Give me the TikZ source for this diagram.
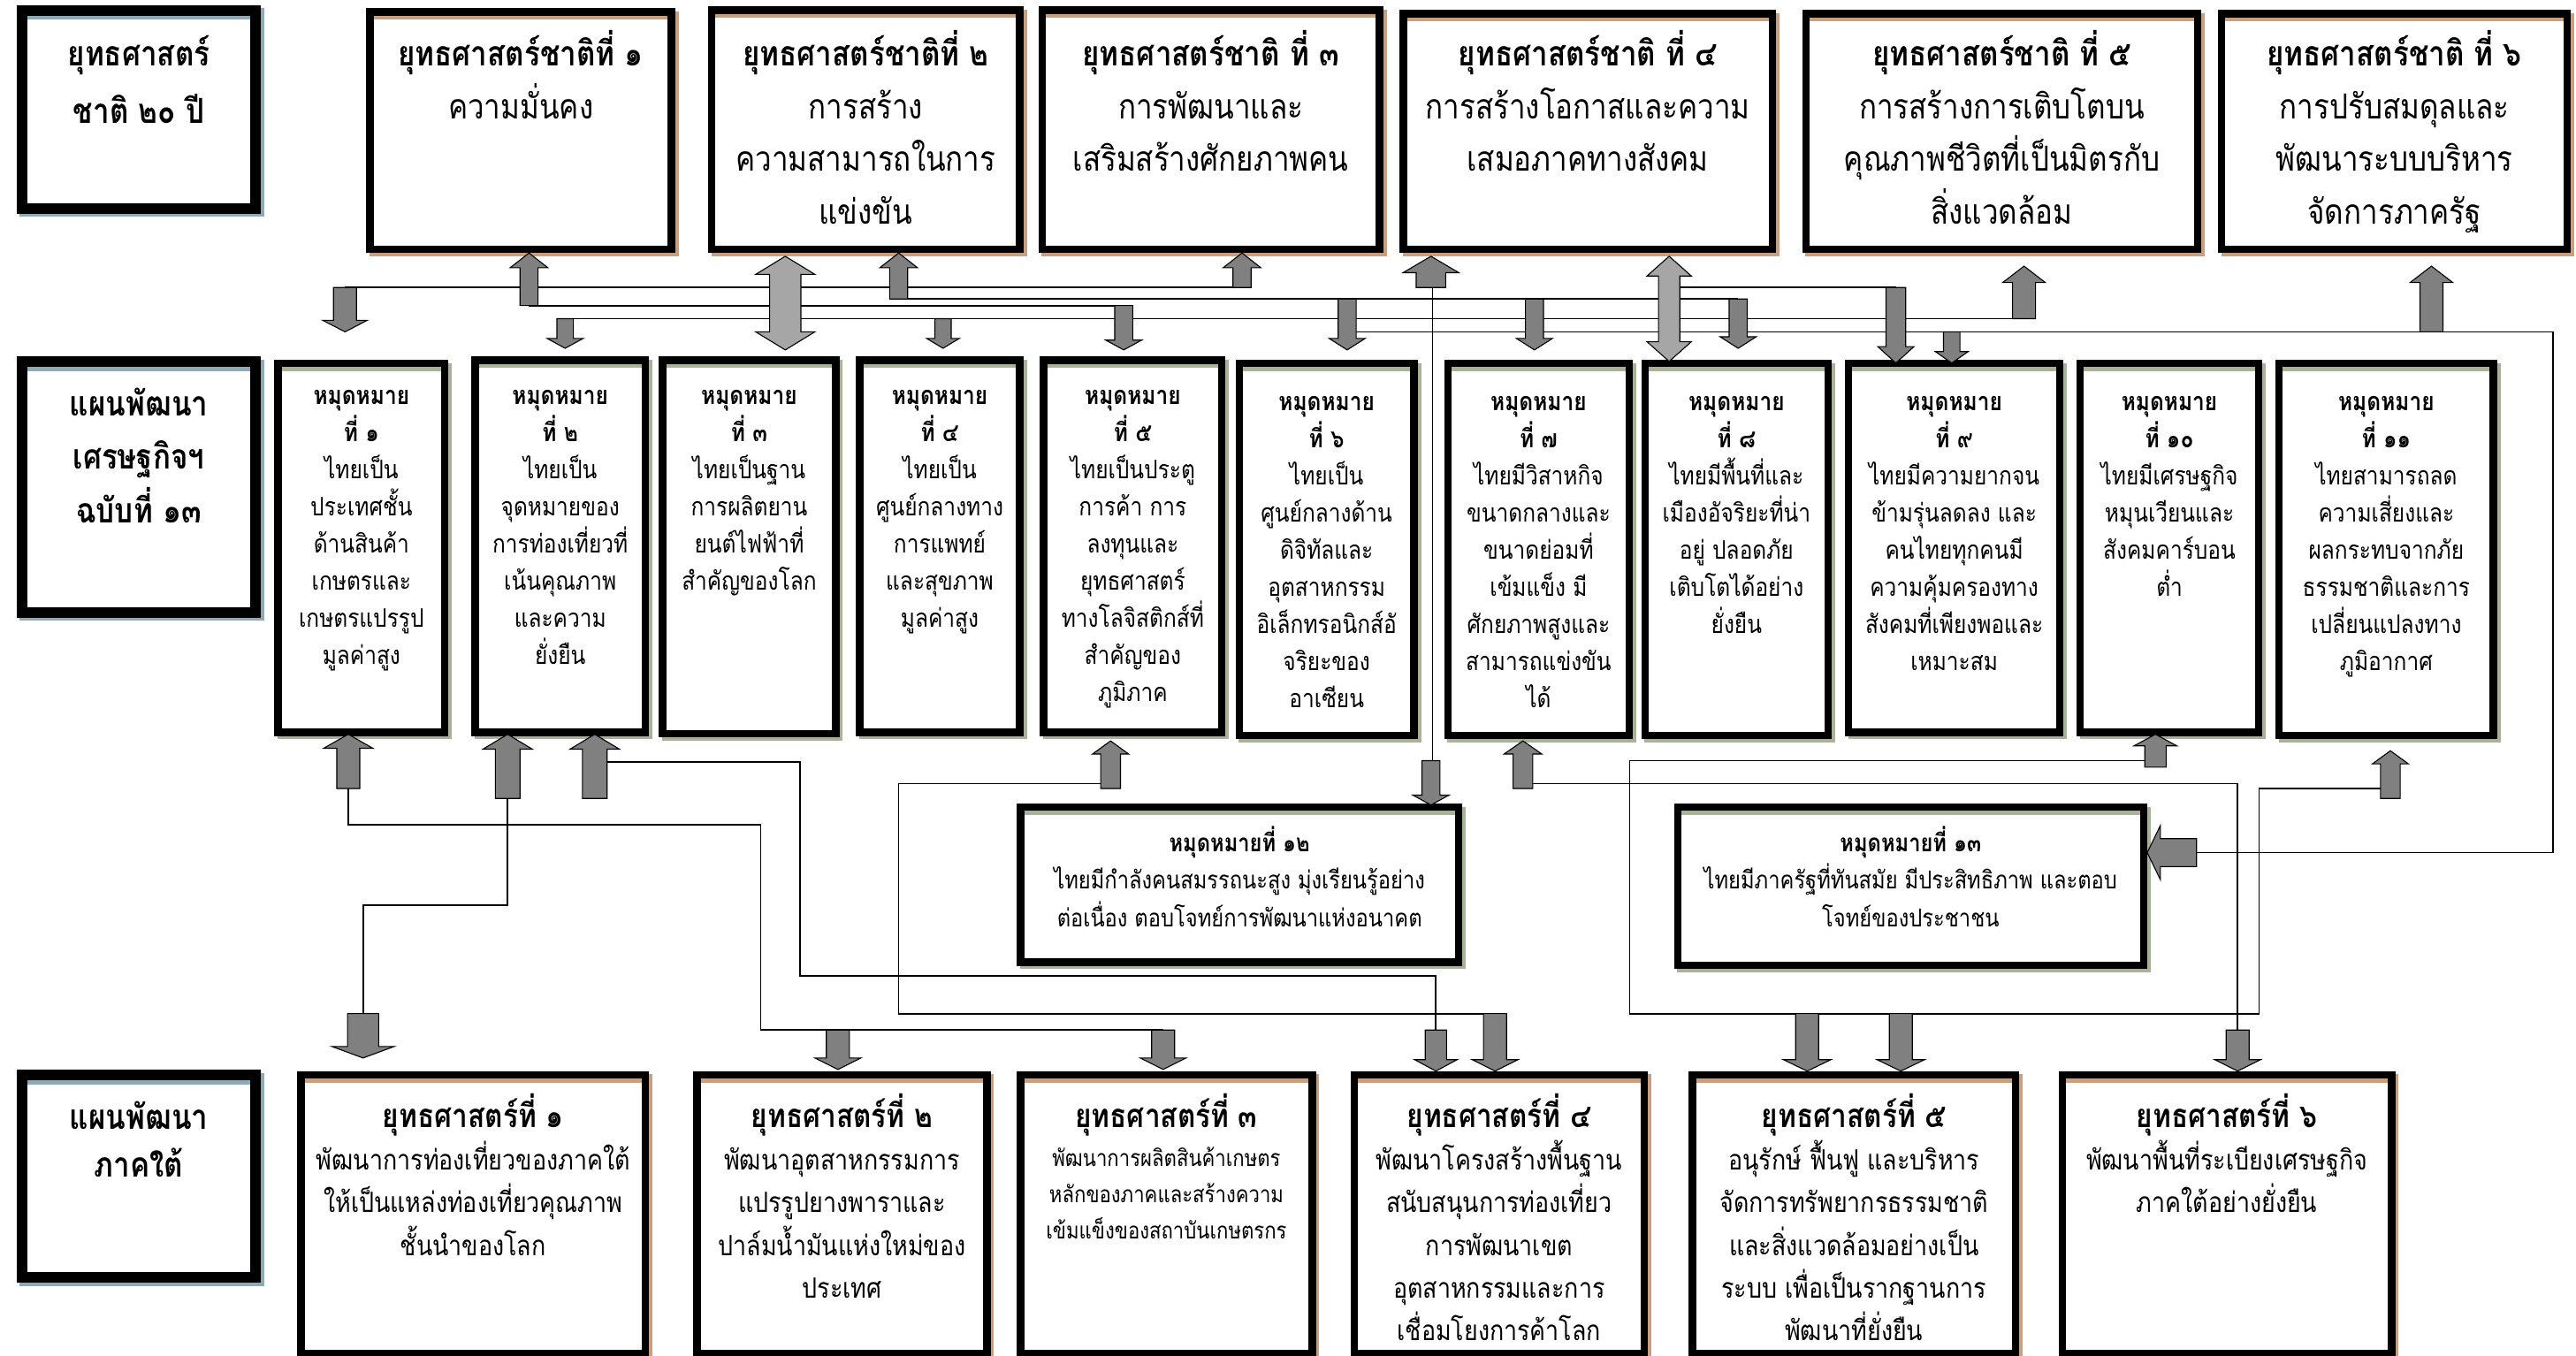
\documentclass[tikz,border=0pt]{standalone}
\usepackage{fontspec}
\setmainfont[Script=Thai,FakeStretch=0.85]{Loma}
\usetikzlibrary{calc}
\definecolor{tanS}{RGB}{201,160,127}
\definecolor{blueS}{RGB}{143,170,181}
\definecolor{oliveS}{RGB}{167,178,151}
\definecolor{arrG}{RGB}{128,128,128}
\definecolor{arrL}{RGB}{166,166,166}

\newcommand\fTop{\fontsize{21}{32}\selectfont}
\newcommand\fLabA{\fontsize{21}{35}\selectfont\bfseries}
\newcommand\fLab{\fontsize{21}{32.5}\selectfont\bfseries}
\newcommand\fLabL{\fontsize{21}{29}\selectfont\bfseries}
\newcommand\fMid{\fontsize{15.5}{22.6}\selectfont}
\newcommand\fTwl{\fontsize{15}{23}\selectfont}
\newcommand\fBot{\fontsize{17}{26}\selectfont}
\newcommand\fBotS{\fontsize{14}{22}\selectfont}
\newcommand\fBotT{\fontsize{20}{26}\selectfont\bfseries}

\tikzset{conn/.style={draw=black,line width=0.9pt}}

% box: name, x1, y1, x2, y2 (outer black extents), border width, shadow colour
\newcommand\mkbox[7]{%
  \fill[#7] ({#2+2},{#3+2}) rectangle ({#4+2},{#5+2});
  \node[draw=black, fill=white, line width=#6pt, inner sep=0pt, outer sep=0pt,
    anchor=north west, minimum width={#4-#2-#6}, minimum height={#5-#3-#6},
    path picture={\fill[#7] (path picture bounding box.north west) rectangle
      ([yshift={-(#6/2+2.5)*1pt}]path picture bounding box.north east);}]
    (#1) at ({#2+#6/2},{#3+#6/2}) {};}

% text: name, box, first baseline y, font, text, strut height
\newcommand\tnode[6]{%
  \node[anchor=north, align=center, inner sep=0pt, font=#4] (#1)
    at (#2.north |- 0,{#3-#6}) {\rule{0pt}{#6pt}#5};}

% block arrow: [colour] base, tip, shaft half width, head half width, head length
\newcommand\barrow[6][arrG]{%
  \filldraw[fill=#1,draw=black,line width=0.6pt] let \p1=(#2), \p2=(#3),
    \n1={veclen(\x2-\x1,\y2-\y1)}, \n2={(\x2-\x1)/\n1}, \n3={(\y2-\y1)/\n1} in
    ({\x1-(\n3)*#4},{\y1+(\n2)*#4})
    -- ({\x2-(\n2)*#6-(\n3)*#4},{\y2-(\n3)*#6+(\n2)*#4})
    -- ({\x2-(\n2)*#6-(\n3)*#5},{\y2-(\n3)*#6+(\n2)*#5})
    -- (\x2,\y2)
    -- ({\x2-(\n2)*#6+(\n3)*#5},{\y2-(\n3)*#6-(\n2)*#5})
    -- ({\x2-(\n2)*#6+(\n3)*#4},{\y2-(\n3)*#6-(\n2)*#4})
    -- ({\x1+(\n3)*#4},{\y1-(\n2)*#4}) -- cycle;}

% double block arrow: [colour] tip1, tip2, shaft hw, head hw, head length
\newcommand\dblarrow[6][arrL]{%
  \filldraw[fill=#1,draw=black,line width=0.6pt] let \p1=(#2), \p2=(#3),
    \n1={veclen(\x2-\x1,\y2-\y1)}, \n2={(\x2-\x1)/\n1}, \n3={(\y2-\y1)/\n1} in
    (\x1,\y1)
    -- ({\x1+(\n2)*#6-(\n3)*#5},{\y1+(\n3)*#6+(\n2)*#5})
    -- ({\x1+(\n2)*#6-(\n3)*#4},{\y1+(\n3)*#6+(\n2)*#4})
    -- ({\x2-(\n2)*#6-(\n3)*#4},{\y2-(\n3)*#6+(\n2)*#4})
    -- ({\x2-(\n2)*#6-(\n3)*#5},{\y2-(\n3)*#6+(\n2)*#5})
    -- (\x2,\y2)
    -- ({\x2-(\n2)*#6+(\n3)*#5},{\y2-(\n3)*#6-(\n2)*#5})
    -- ({\x2-(\n2)*#6+(\n3)*#4},{\y2-(\n3)*#6-(\n2)*#4})
    -- ({\x1+(\n2)*#6+(\n3)*#4},{\y1+(\n3)*#6-(\n2)*#4})
    -- ({\x1+(\n2)*#6+(\n3)*#5},{\y1+(\n3)*#6-(\n2)*#5}) -- cycle;}

\begin{document}
\begin{tikzpicture}[x=1pt,y=-1pt]
\useasboundingbox (0,0) rectangle (1568,825);
\fill[white] (0,0) rectangle (1568,825);

% ---------------- boxes ----------------
\mkbox{A}{10}{3}{159}{130}{6.5}{blueS}
\mkbox{N1}{223}{5}{411}{154}{4.5}{tanS}
\mkbox{N2}{431}{4}{623}{154}{4.5}{tanS}
\mkbox{N3}{632}{4}{842}{154}{4.5}{tanS}
\mkbox{N4}{852}{6}{1081}{154}{4.5}{tanS}
\mkbox{N5}{1097}{6}{1340}{154}{4.5}{tanS}
\mkbox{N6}{1350}{6}{1565}{154}{4.5}{tanS}

\mkbox{E}{10}{217}{159}{376}{6.5}{blueS}
\mkbox{G1}{167}{219}{273}{448}{4.5}{oliveS}
\mkbox{G2}{287}{217}{395}{448}{4.5}{oliveS}
\mkbox{G3}{401}{217}{511}{449}{4.5}{oliveS}
\mkbox{G4}{521}{217}{623}{448}{4.5}{oliveS}
\mkbox{G5}{633}{217}{746}{448}{4.5}{oliveS}
\mkbox{G6}{752}{219}{863}{450}{4.5}{oliveS}
\mkbox{G7}{879}{219}{994}{450}{4.5}{oliveS}
\mkbox{G8}{999}{219}{1115}{450}{4.5}{oliveS}
\mkbox{G9}{1123}{219}{1256}{448}{4.5}{oliveS}
\mkbox{G10}{1264}{219}{1377}{448}{4.5}{oliveS}
\mkbox{G11}{1385}{219}{1520}{450}{4.5}{oliveS}
\mkbox{G12}{619}{489}{890}{588}{4.5}{oliveS}
\mkbox{G13}{1019}{489}{1307}{590}{4.5}{oliveS}

\mkbox{L}{10}{651}{159}{781}{6.5}{blueS}
\mkbox{S1}{181}{652}{395}{826}{4.5}{tanS}
\mkbox{S2}{422}{652}{603}{826}{4.5}{tanS}
\mkbox{S3}{619}{652}{801}{826}{4.5}{tanS}
\mkbox{S4}{822}{652}{1003}{826}{4.5}{tanS}
\mkbox{S5}{1028}{652}{1229}{826}{4.5}{tanS}
\mkbox{S6}{1253}{652}{1458}{826}{4.5}{tanS}

% ---------------- texts ----------------
\tnode{At}{A}{40}{\fLabA}{ยุทธศาสตร์\\ชาติ ๒๐ ปี}{30}
\tnode{N1t}{N1}{40}{\fTop}{{\bfseries ยุทธศาสตร์ชาติที่ ๑}\\ความมั่นคง}{30}
\tnode{N2t}{N2}{40}{\fTop}{{\bfseries ยุทธศาสตร์ชาติที่ ๒}\\การสร้าง\\ความสามารถในการ\\แข่งขัน}{30}
\tnode{N3t}{N3}{40}{\fTop}{{\bfseries ยุทธศาสตร์ชาติ ที่ ๓}\\การพัฒนาและ\\เสริมสร้างศักยภาพคน}{30}
\tnode{N4t}{N4}{40}{\fTop}{{\bfseries ยุทธศาสตร์ชาติ ที่ ๔}\\การสร้างโอกาสและความ\\เสมอภาคทางสังคม}{30}
\tnode{N5t}{N5}{40}{\fTop}{{\bfseries ยุทธศาสตร์ชาติ ที่ ๕}\\การสร้างการเติบโตบน\\คุณภาพชีวิตที่เป็นมิตรกับ\\สิ่งแวดล้อม}{30}
\tnode{N6t}{N6}{40}{\fTop}{{\bfseries ยุทธศาสตร์ชาติ ที่ ๖}\\การปรับสมดุลและ\\พัฒนาระบบบริหาร\\จัดการภาครัฐ}{30}

\tnode{Et}{E}{253}{\fLab}{แผนพัฒนา\\เศรษฐกิจฯ\\ฉบับที่ ๑๓}{30}
\tnode{G1t}{G1}{246}{\fMid}{{\bfseries หมุดหมาย}\\{\bfseries ที่ ๑}\\ไทยเป็น\\ประเทศชั้น\\ด้านสินค้า\\เกษตรและ\\เกษตรแปรรูป\\มูลค่าสูง}{22}
\tnode{G2t}{G2}{246}{\fMid}{{\bfseries หมุดหมาย}\\{\bfseries ที่ ๒}\\ไทยเป็น\\จุดหมายของ\\การท่องเที่ยวที่\\เน้นคุณภาพ\\และความ\\ยั่งยืน}{22}
\tnode{G3t}{G3}{246}{\fMid}{{\bfseries หมุดหมาย}\\{\bfseries ที่ ๓}\\ไทยเป็นฐาน\\การผลิตยาน\\ยนต์ไฟฟ้าที่\\สำคัญของโลก}{22}
\tnode{G4t}{G4}{246}{\fMid}{{\bfseries หมุดหมาย}\\{\bfseries ที่ ๔}\\ไทยเป็น\\ศูนย์กลางทาง\\การแพทย์\\และสุขภาพ\\มูลค่าสูง}{22}
\tnode{G5t}{G5}{246}{\fMid}{{\bfseries หมุดหมาย}\\{\bfseries ที่ ๕}\\ไทยเป็นประตู\\การค้า การ\\ลงทุนและ\\ยุทธศาสตร์\\ทางโลจิสติกส์ที่\\สำคัญของ\\ภูมิภาค}{22}
\tnode{G6t}{G6}{250}{\fMid}{{\bfseries หมุดหมาย}\\{\bfseries ที่ ๖}\\ไทยเป็น\\ศูนย์กลางด้าน\\ดิจิทัลและ\\อุตสาหกรรม\\อิเล็กทรอนิกส์อั\\จริยะของ\\อาเซียน}{22}
\tnode{G7t}{G7}{250}{\fMid}{{\bfseries หมุดหมาย}\\{\bfseries ที่ ๗}\\ไทยมีวิสาหกิจ\\ขนาดกลางและ\\ขนาดย่อมที่\\เข้มแข็ง มี\\ศักยภาพสูงและ\\สามารถแข่งขัน\\ได้}{22}
\tnode{G8t}{G8}{250}{\fMid}{{\bfseries หมุดหมาย}\\{\bfseries ที่ ๘}\\ไทยมีพื้นที่และ\\เมืองอัจริยะที่น่า\\อยู่ ปลอดภัย\\เติบโตได้อย่าง\\ยั่งยืน}{22}
\tnode{G9t}{G9}{250}{\fMid}{{\bfseries หมุดหมาย}\\{\bfseries ที่ ๙}\\ไทยมีความยากจน\\ข้ามรุ่นลดลง และ\\คนไทยทุกคนมี\\ความคุ้มครองทาง\\สังคมที่เพียงพอและ\\เหมาะสม}{22}
\tnode{G10t}{G10}{250}{\fMid}{{\bfseries หมุดหมาย}\\{\bfseries ที่ ๑๐}\\ไทยมีเศรษฐกิจ\\หมุนเวียนและ\\สังคมคาร์บอน\\ต่ำ}{22}
\tnode{G11t}{G11}{250}{\fMid}{{\bfseries หมุดหมาย}\\{\bfseries ที่ ๑๑}\\ไทยสามารถลด\\ความเสี่ยงและ\\ผลกระทบจากภัย\\ธรรมชาติและการ\\เปลี่ยนแปลงทาง\\ภูมิอากาศ}{22}
\tnode{G12t}{G12}{518}{\fTwl}{{\bfseries หมุดหมายที่ ๑๒}\\ไทยมีกำลังคนสมรรถนะสูง มุ่งเรียนรู้อย่าง\\ต่อเนื่อง ตอบโจทย์การพัฒนาแห่งอนาคต}{22}
\tnode{G13t}{G13}{518}{\fTwl}{{\bfseries หมุดหมายที่ ๑๓}\\ไทยมีภาครัฐที่ทันสมัย มีประสิทธิภาพ และตอบ\\โจทย์ของประชาชน}{22}

\tnode{Lt}{L}{687}{\fLabL}{แผนพัฒนา\\ภาคใต้}{30}
\tnode{S1t}{S1}{686}{\fBot}{{\fBotT ยุทธศาสตร์ที่ ๑}\\พัฒนาการท่องเที่ยวของภาคใต้\\ให้เป็นแหล่งท่องเที่ยวคุณภาพ\\ชั้นนำของโลก}{28}
\tnode{S2t}{S2}{686}{\fBot}{{\fBotT ยุทธศาสตร์ที่ ๒}\\พัฒนาอุตสาหกรรมการ\\แปรรูปยางพาราและ\\ปาล์มน้ำมันแห่งใหม่ของ\\ประเทศ}{28}
\tnode{S3t}{S3}{686}{\fBotS}{{\fBotT ยุทธศาสตร์ที่ ๓}\\[2pt]พัฒนาการผลิตสินค้าเกษตร\\หลักของภาคและสร้างความ\\เข้มแข็งของสถาบันเกษตรกร}{28}
\tnode{S4t}{S4}{686}{\fBot}{{\fBotT ยุทธศาสตร์ที่ ๔}\\พัฒนาโครงสร้างพื้นฐาน\\สนับสนุนการท่องเที่ยว\\การพัฒนาเขต\\อุตสาหกรรมและการ\\เชื่อมโยงการค้าโลก}{28}
\tnode{S5t}{S5}{686}{\fBot}{{\fBotT ยุทธศาสตร์ที่ ๕}\\อนุรักษ์ ฟื้นฟู และบริหาร\\จัดการทรัพยากรธรรมชาติ\\และสิ่งแวดล้อมอย่างเป็น\\ระบบ เพื่อเป็นรากฐานการ\\พัฒนาที่ยั่งยืน}{28}
\tnode{S6t}{S6}{686}{\fBot}{{\fBotT ยุทธศาสตร์ที่ ๖}\\พัฒนาพื้นที่ระเบียงเศรษฐกิจ\\ภาคใต้อย่างยั่งยืน}{28}

% ---------------- connector end points ----------------
\coordinate (bN1) at (322,186);  \coordinate (bN2) at (547,182);
\coordinate (bN3) at (756,175);  \coordinate (bN4) at (871,175);
\coordinate (bN5) at (1232,194); \coordinate (bN6) at (1480,202);
\coordinate (dG1) at (210,175);  \coordinate (dG2) at (344,194);
\coordinate (dG4) at (574,194);  \coordinate (dG5) at (684,186);
\coordinate (dG6) at (820,182);  \coordinate (dG7) at (934,182);
\coordinate (dG8) at (1058,182); \coordinate (dG9a) at (1154,175);
\coordinate (dG9b) at (1188,202); \coordinate (dX) at (1016,175);
\coordinate (dG12) at (871,463);  \coordinate (bG13) at (1337,519);
\coordinate (uG1) at (212,480);  \coordinate (uG2a) at (309,486);
\coordinate (uG2b) at (362,486); \coordinate (uG5) at (676,480);
\coordinate (uG7) at (927,480);  \coordinate (uG10) at (1312,467);
\coordinate (uG11) at (1455,486);
\coordinate (dS1) at (221,617);  \coordinate (dS2) at (510,627);
\coordinate (dS3) at (708,627);  \coordinate (dS4a) at (874,627);
\coordinate (dS4b) at (910,617); \coordinate (dS5a) at (1100,617);
\coordinate (dS5b) at (1157,617); \coordinate (dS6) at (1362,627);

% ---------------- thin connectors ----------------
\draw[conn] (dG1) -- (bN3);
\draw[conn] (dX) -- (dG9a);
\draw[conn] (bN2) -- (dG8);
\draw[conn] (bN1) -- (dG5);
\draw[conn] (dG2) -- (bN5);
\draw[conn] (dG6 |- 0,202) -- (1554,202) -- (1554,519) -- (bG13);
\draw[conn] (872,175) -- (872,463);
\draw[conn] (uG1) -- (212,502) -- (463,502) -- (463,627) -- (dS3);
\draw[conn] (uG2a) -- (309,551) -- (221,551) -- (dS1);
\draw[conn] (362,464) -- (487,464) -- (487,594) -- (874,594) -- (dS4a);
\draw[conn] (676,477) -- (547,477) -- (547,617) -- (dS4b);
\draw[conn] (927,477) -- (1362,477) -- (dS6);
\draw[conn] (1312,463) -- (992,463) -- (992,617) -- (1375,617) -- (1375,480) -- (1455,480);

% ---------------- block arrows ----------------
\barrow{bN1}{322,154}{5.5}{11.5}{9}
\barrow{bN2}{547,154}{5.5}{11.5}{9}
\barrow{bN3}{756,154}{5.5}{11.5}{9}
\barrow{bN4}{871,156}{9}{17}{10}
\barrow{bN5}{1232,162}{7}{13}{10}
\barrow{bN6}{1480,162}{7}{13}{10}
\dblarrow{478,156}{478,213}{9.5}{18}{11}
\dblarrow{1016,156}{1016,220}{6.5}{13.5}{12}
\barrow{dG1}{210,202}{7}{13.5}{7}
\barrow{dG2}{344,212}{5}{11}{6}
\barrow{dG4}{574,212}{5}{10}{6}
\barrow{dG5}{684,213}{5.5}{11}{6}
\barrow{dG6}{820,213}{5.5}{11}{7}
\barrow{dG7}{934,213}{5.5}{11}{7}
\barrow{dG8}{1058,212}{5.5}{11}{7}
\barrow{dG9a}{1154,221}{6}{11}{10}
\barrow{dG9b}{1188,221}{5}{10}{7}
\barrow{dG12}{871,490}{5.5}{11}{6}
\barrow{uG1}{212,447}{7}{15}{8.5}
\barrow{uG2a}{309,447}{7.5}{15}{9}
\barrow{uG2b}{362,447}{7.5}{15}{9}
\barrow{uG5}{676,451}{6}{11}{8}
\barrow{uG7}{927,451}{6}{11.5}{8}
\barrow{uG10}{1312,447}{6.5}{13}{7}
\barrow{uG11}{1455,457}{6}{11}{8}
\barrow{dS1}{221,644}{9.5}{19}{7}
\barrow{dS2}{510,651}{7}{14}{7}
\barrow{dS3}{708,651}{7}{14}{7}
\barrow{dS4a}{874,652}{6.5}{13}{7}
\barrow{dS4b}{910,652}{7}{14}{7}
\barrow{dS5a}{1100,652}{7}{14.5}{7}
\barrow{dS5b}{1157,652}{7}{14.5}{7}
\barrow{dS6}{1362,652}{7}{14}{7}
\barrow{bG13}{1307,519}{8.5}{16.5}{8}
\end{tikzpicture}
\end{document}
